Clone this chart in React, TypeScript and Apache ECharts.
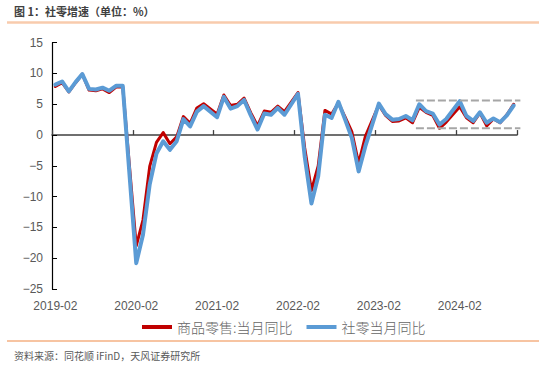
import React, { useEffect, useRef } from "react";
import * as echarts from "echarts";

// Monthly categories 2019-02 … 2024-10 (January has no separate release → null)
const months: string[] = [];
for (let y = 2019; y <= 2024; y++) {
  for (let m = 1; m <= 12; m++) {
    if (y === 2019 && m < 2) continue;
    if (y === 2024 && m > 10) continue;
    months.push(`${y}-${String(m).padStart(2, "0")}`);
  }
}

// 商品零售:当月同比 (%)
const goodsRetail: (number | null)[] = [
  7.9, 8.5, 7.0, 8.5, 9.9, 7.3, 7.2, 7.5, 6.9, 7.8, 7.8,
  null,
  -18.0, -13.8, -5.1, -1.2, 0.4, -1.4, -0.3, 3.0, 1.9, 4.4, 5.1,
  null,
  3.4, 6.5, 4.8, 5.0, 6.0, 3.6, 1.5, 3.9, 3.7, 4.7, 3.8,
  null,
  6.9, -2.1, -9.0, -5.0, 4.0, 3.4, 5.2, 2.9, 0.5, -4.6, -0.2,
  null,
  4.9, 3.2, 2.2, 2.3, 2.8, 2.0, 4.5, 3.7, 3.2, 1.1, 2.1,
  null,
  4.6, 2.8, 2.0, 3.6, 1.5, 2.6, 2.0, 3.3, 5.0,
];

// 社零当月同比 (%)
const totalRetail: (number | null)[] = [
  8.2, 8.7, 7.1, 8.6, 9.9, 7.5, 7.4, 7.7, 7.2, 8.0, 8.0,
  null,
  -20.8, -16.2, -8.0, -3.0, -1.0, -2.4, -1.0, 2.6, 1.4, 3.8, 4.7,
  null,
  2.9, 6.2, 4.3, 4.7, 5.7, 3.2, 0.9, 3.5, 3.3, 4.4, 3.3,
  null,
  6.7, -3.5, -11.1, -6.7, 3.3, 2.8, 5.4, 2.5, -0.5, -5.9, -1.8,
  null,
  5.1, 3.4, 2.5, 2.6, 3.1, 2.4, 5.0, 3.9, 3.5, 1.7, 2.6,
  null,
  5.5, 3.1, 2.3, 3.7, 2.0, 2.7, 2.1, 3.2, 4.8,
];

// Band annotations (dashed)
const bandUpper = 5.6;
const bandLower = 1.1;
const bandStartCats = ["2023-07", "2023-08"];
const bandEndCats = ["2024-09", "2024-10"];

const seriesNames = ["商品零售:当月同比", "社零当月同比"];
const titleText = "图 1：社零增速（单位：%）";
const sourceText = "资料来源：同花顺 iFinD，天风证券研究所";

const CJK = '"Noto Sans CJK SC", "Liberation Sans", sans-serif';
const LATIN = '"Liberation Sans", Arial, sans-serif';

export default function App() {
  const ref = useRef<HTMLDivElement>(null);
  useEffect(() => {
    if (!ref.current) return;
    const chart = echarts.init(ref.current, null, { renderer: "svg" });
    const baseGraphic: any[] = [
      {
        id: "title",
        type: "text",
        left: 14,
        top: 5,
        style: { text: titleText, fill: "#404040", font: `bold 11px ${CJK}` },
      },
      {
        id: "topRule",
        type: "line",
        shape: { x1: 7, y1: 22.5, x2: 539, y2: 22.5 },
        style: { stroke: "#F8CBAD", lineWidth: 2.5 },
      },
      {
        id: "bottomRule",
        type: "line",
        shape: { x1: 7, y1: 341, x2: 539, y2: 341 },
        style: { stroke: "#F4B183", lineWidth: 1.5 },
      },
      {
        id: "source",
        type: "text",
        left: 14,
        top: 350,
        style: { text: sourceText, fill: "#595959", font: `10px ${CJK}` },
      },
    ];
    const option: any = {
      animation: false,
      grid: { left: 52, right: 33, top: 42.7, bottom: 77 },
      legend: {
        data: seriesNames,
        left: 137,
        top: 315,
        icon: "rect",
        itemWidth: 30,
        itemHeight: 4,
        itemGap: 14,
        textStyle: { color: "#666666", fontSize: 14, fontWeight: 300, fontFamily: CJK },
      },
      xAxis: [
        {
          type: "category",
          data: months,
          boundaryGap: true,
          position: "bottom",
          axisLine: { show: false, onZero: false },
          axisTick: { show: false },
          axisLabel: {
            interval: 11,
            color: "#595959",
            fontSize: 12,
            fontFamily: LATIN,
            margin: 11,
          },
          splitLine: { show: false },
        },
        {
          type: "category",
          data: months,
          boundaryGap: true,
          position: "bottom",
          axisLine: { show: true, onZero: true, lineStyle: { color: "#404040", width: 1.5 } },
          axisTick: { show: true, inside: true, length: 5, interval: 11, lineStyle: { color: "#404040", width: 1.3 } },
          axisLabel: { show: false },
          splitLine: { show: false },
        },
      ],
      yAxis: {
        type: "value",
        min: -25,
        max: 15,
        interval: 5,
        axisLine: { show: true, lineStyle: { color: "#000000", width: 1.2 } },
        axisTick: { show: true, inside: true, length: 5, lineStyle: { color: "#000000" } },
        axisLabel: {
          color: "#595959",
          fontSize: 12,
          fontFamily: LATIN,
          margin: 9,
          formatter: (v: number) => String(v).replace("-", "−"),
        },
        splitLine: { show: false },
      },
      series: [
        {
          name: seriesNames[0],
          type: "line",
          data: goodsRetail,
          connectNulls: true,
          symbol: "none",
          itemStyle: { color: "#C00000" },
          lineStyle: { color: "#C00000", width: 3, join: "round", cap: "round" },
        },
        {
          name: seriesNames[1],
          type: "line",
          data: totalRetail,
          connectNulls: true,
          symbol: "none",
          itemStyle: { color: "#5B9BD5" },
          lineStyle: { color: "#5B9BD5", width: 4, join: "round", cap: "round" },
        },
      ],
      graphic: baseGraphic,
    };
    chart.setOption(option);

    const px = (cat: string, v: number) =>
      chart.convertToPixel({ xAxisIndex: 0, yAxisIndex: 0 }, [cat, v]) as number[];
    const xs0 = px(bandStartCats[0], 0)[0];
    const xs1 = px(bandStartCats[1], 0)[0];
    const xe0 = px(bandEndCats[0], 0)[0];
    const xe1 = px(bandEndCats[1], 0)[0];
    const xStart = (xs0 + xs1) / 2;
    const xEnd = xe1 + (xe1 - xe0);
    const yU = px(bandEndCats[1], bandUpper)[1];
    const yL = px(bandEndCats[1], bandLower)[1];
    const dashStyle = { stroke: "#A6A6A6", lineWidth: 2, lineDash: [8, 3] };
    chart.setOption({
      graphic: [
        ...baseGraphic,
        { id: "bandU", type: "line", z: 10, shape: { x1: xStart, y1: yU, x2: xEnd, y2: yU }, style: dashStyle },
        { id: "bandL", type: "line", z: 10, shape: { x1: xStart, y1: yL, x2: xEnd, y2: yL }, style: dashStyle },
      ],
    });
    return () => chart.dispose();
  }, []);
  return (
    <div
      ref={ref}
      style={{ position: "fixed", left: 0, top: 0, width: 550, height: 366, background: "#ffffff" }}
    />
  );
}
